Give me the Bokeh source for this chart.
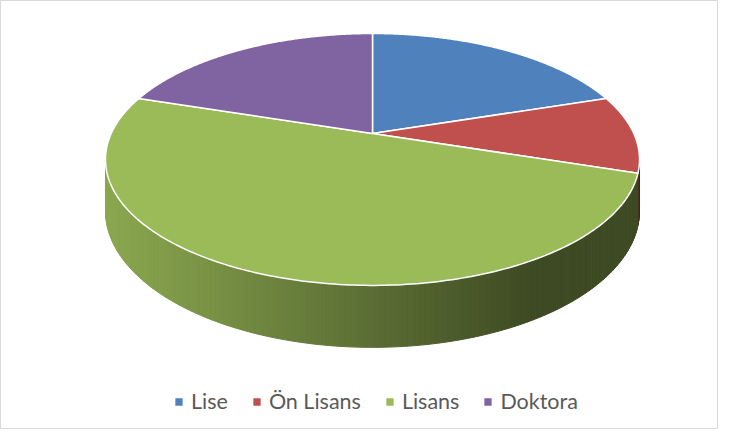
import numpy as np
from bokeh.plotting import figure
from bokeh.models import Range1d, Legend, LegendItem, ColumnDataSource
from bokeh.embed import file_html
from bokeh.resources import INLINE

# ---- data ----
categories = ["Lise", "Ön Lisans", "Lisans", "Doktora"]
values = [20, 10, 50, 20]
colors = ["#4F81BD", "#C0504D", "#9BBB59", "#8064A2"]

# ---- 3D pie geometry (screen-pixel coordinates) ----
CX, CY = 372.0, 133.0      # projected centre of the pie top
A, B = 261.3, 120.6        # horizontal / vertical radii
K = 0.206                  # perspective factor
H = 49.2                   # thickness

def proj(theta, depth=0.0):
    u = np.sin(theta)
    v = np.cos(theta)
    s = 1.0 / (1.0 + K * v)
    return CX + A * u * s, CY - B * v * s + depth * s

def hex2rgb(h):
    h = h.lstrip("#")
    return tuple(int(h[i:i + 2], 16) for i in (0, 2, 4))

def shade(hexcol, x):
    t = np.clip((x - 105.0) / (530.0 - 105.0), 0.0, 1.0)
    f = 0.90 - 0.50 * t
    r, g, b = hex2rgb(hexcol)
    return "#%02x%02x%02x" % (int(r * f), int(g * f), int(b * f))

total = float(sum(values))
bounds = np.concatenate([[0.0], np.cumsum(values)]) / total * 2 * np.pi

p = figure(width=718, height=429, output_backend="svg", toolbar_location=None,
           x_axis_type=None, y_axis_type=None,
           x_range=Range1d(0, 718), y_range=Range1d(429, 0),
           min_border=0, outline_line_color="#D9D9D9", outline_line_width=1,
           background_fill_color="white", border_fill_color="white")
p.grid.visible = False

# ---- side walls (only the front, visible part) ----
theta_sil = np.arccos(-K)
side_xs, side_ys, side_cols = [], [], []
for i in range(len(values)):
    a0 = max(bounds[i], theta_sil)
    a1 = min(bounds[i + 1], 2 * np.pi - theta_sil)
    if a1 <= a0:
        continue
    n = max(2, int((a1 - a0) / (np.pi / 180.0)))
    th = np.linspace(a0, a1, n + 1)
    for j in range(n):
        x0, y0 = proj(th[j])
        x1, y1 = proj(th[j + 1])
        x0b, y0b = proj(th[j], H)
        x1b, y1b = proj(th[j + 1], H)
        side_xs.append([x0, x1, x1b, x0b])
        side_ys.append([y0, y1, y1b, y0b])
        side_cols.append(shade(colors[i], (x0 + x1) / 2))
p.patches(xs="xs", ys="ys", fill_color="c", line_color="c", line_width=1,
          source=ColumnDataSource(dict(xs=side_xs, ys=side_ys, c=side_cols)))

# ---- top faces ----
top_xs, top_ys = [], []
for i in range(len(values)):
    th = np.linspace(bounds[i], bounds[i + 1], 200)
    xs, ys = proj(th)
    top_xs.append([CX] + list(xs))
    top_ys.append([CY] + list(ys))
top = p.patches(xs="xs", ys="ys", fill_color="c", line_color="white", line_width=1.5,
                line_join="round",
                source=ColumnDataSource(dict(xs=top_xs, ys=top_ys, c=colors,
                                             name=categories)))

# ---- legend ----
items = [LegendItem(label=name, renderers=[top], index=i)
         for i, name in enumerate(categories)]
legend = Legend(items=items, orientation="horizontal", location=(173, 15),
                glyph_width=11, glyph_height=11, label_standoff=7, spacing=23,
                padding=0, margin=0, border_line_alpha=0, background_fill_alpha=0,
                label_text_font="Lato", label_text_font_size="21.5px",
                label_text_color="#595959")
p.add_layout(legend, "center")

open("out.html", "w").write(file_html(p, INLINE))
